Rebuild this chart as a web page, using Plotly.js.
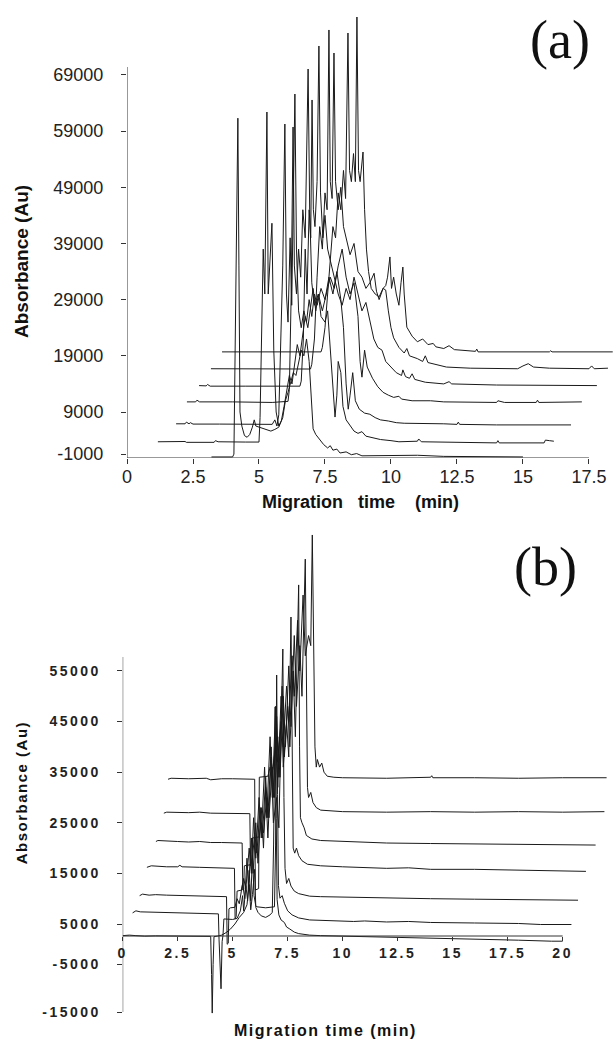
<!DOCTYPE html>
<html>
<head>
<meta charset="utf-8">
<script src="https://cdn.plot.ly/plotly-3.0.1.min.js"></script>
<style>
  html, body { margin: 0; padding: 0; background: #fff; }
  #chart { width: 613px; height: 1040px; }
  .x2tick text, .y2tick text { letter-spacing: 2.5px; }
  g.annotation[data-index="4"] text, g.annotation[data-index="5"] text { letter-spacing: 1.5px; }
</style>
</head>
<body>
<div id="chart"></div>
<script>
// ---------------- Panel (a) data: migration time (min) / absorbance (Au) ----------------
const A_XTICKS = [0, 2.5, 5, 7.5, 10, 12.5, 15, 17.5];
const A_XTICKTEXT = ['0', '2.5', '5', '7.5', '10', '12.5', '15', '17.5'];
const A_YTICKS = [1500, 9000, 19000, 29000, 39000, 49000, 59000, 69000];
const A_YTICKTEXT = ['-1000', '9000', '19000', '29000', '39000', '49000', '59000', '69000'];

const A_T0_X = [3.2,4.0,4.05,4.1,4.15,4.2,4.24,4.28,4.35,4.45,4.55,4.65,4.75,4.82,4.88,5.0,5.15,5.3,5.45,5.6,5.75,5.9,6.0,6.1,6.2,6.3,6.4,6.5,6.6,6.7,6.8,6.9,6.97,7.05,7.15,7.3,7.45,7.6,7.7,7.8,7.95,8.07,8.3,8.5,8.7,8.9,10.0,11.0,12.0,13.5,15.0];
const A_T0_Y = [1000,1000,1500,25000,48000,61300,35000,9000,6500,4800,4500,5000,6300,7600,6500,6300,6000,5800,5600,5900,6300,8000,11000,12500,14500,16000,15500,18000,20000,19000,22000,18000,12000,6000,5000,4000,3200,2600,3000,2200,2400,1700,1900,1400,1600,1200,1200,1300,1100,1100,1000];

const A_T1_X = [1.17,1.5,1.55,2.2,2.25,3.3,3.35,3.45,4.5,5.0,5.04,5.1,5.16,5.22,5.3,5.35,5.42,5.49,5.56,5.65,5.75,5.85,5.95,6.05,6.15,6.25,6.35,6.45,6.55,6.65,6.75,6.85,6.95,7.05,7.15,7.25,7.35,7.5,7.6,7.7,7.8,7.88,7.95,8.0,8.1,8.18,8.3,8.45,8.6,8.75,8.9,9.05,9.3,9.6,10.0,10.3,11.0,11.05,11.15,12.5,14.0,14.05,14.1,15.8,15.85,16.0,16.17];
const A_T1_Y = [3700,3700,3800,3750,3600,3600,3900,3700,3650,3650,8000,25000,38000,30000,62400,30000,36000,42600,20000,9000,6500,7500,10000,13000,15500,14000,18000,21000,19000,23000,26000,24000,28000,31000,27000,30000,26000,25000,27000,20000,12000,8100,12000,18000,16000,10000,7600,6500,5600,5200,5500,4700,4400,4100,3900,3700,3800,4200,3700,3600,3500,3900,3500,3500,4000,3900,3800];

const A_T2_X = [1.86,2.2,2.25,2.35,2.4,2.5,3.5,4.6,5.5,5.6,5.68,5.75,5.82,5.9,5.98,6.04,6.1,6.18,6.24,6.3,6.36,6.42,6.5,6.6,6.7,6.8,6.9,7.0,7.1,7.2,7.35,7.5,7.65,7.8,7.95,8.1,8.2,8.3,8.38,8.45,8.55,8.65,8.8,9.0,9.2,9.4,9.6,9.9,10.2,10.5,11.0,12.0,12.5,12.55,12.6,14.0,16.82];
const A_T2_Y = [6900,6900,7200,6900,7100,6850,6850,6800,6800,7600,6500,8500,20000,35000,60260,30000,25000,40000,28000,45000,65600,38000,27000,24000,27000,25000,29000,26000,30000,28000,31000,29000,33000,30000,34000,29000,24000,14000,9500,12000,16000,11000,9500,8800,8600,8000,7600,7400,7100,7000,7000,6900,6800,7200,6800,6700,6700];

const A_T3_X = [2.27,2.6,2.65,2.75,4.0,5.5,6.1,6.15,6.22,6.29,6.34,6.42,6.5,6.58,6.66,6.75,6.86,6.92,7.0,7.1,7.25,7.4,7.55,7.7,7.85,8.0,8.15,8.3,8.45,8.6,8.75,8.83,8.9,9.0,9.1,9.3,9.5,9.7,9.9,10.1,10.3,10.4,10.8,11.5,12.0,14.0,14.05,14.3,15.5,15.55,15.6,17.0,17.23];
const A_T3_Y = [10800,10800,11100,10800,10800,10700,10900,13000,30000,59730,35000,30000,38000,33000,45000,40000,70050,45000,32000,28000,30000,27000,30000,33000,31000,35000,38000,33000,30000,32000,26000,18000,15200,20000,17000,15000,13500,12500,12000,11600,11800,11300,11000,11000,10800,10700,11000,10700,10700,11100,10700,10700,10800];

const A_T4_X = [2.73,3.0,3.05,3.15,4.5,6.55,6.6,6.68,6.75,6.82,6.9,6.96,7.01,7.06,7.12,7.2,7.27,7.33,7.42,7.5,7.6,7.7,7.85,8.0,8.15,8.3,8.45,8.6,8.75,8.9,9.05,9.2,9.35,9.5,9.66,9.8,10.0,10.2,10.4,10.45,10.55,10.7,10.8,10.9,11.3,12.0,12.2,12.3,14.0,16.0,17.8];
const A_T4_Y = [13700,13650,13900,13600,13600,13600,14500,22000,38000,30000,45000,40000,64540,45000,42000,50000,74150,48000,40000,44000,38000,36000,33000,30000,28000,31000,29000,33000,30000,27000,28500,25000,22000,20500,20000,18000,17000,16000,15500,16500,15300,15000,15800,14800,14300,14000,14400,14000,13800,13700,13700];

const A_T5_X = [3.18,4.0,5.0,6.95,7.0,7.1,7.2,7.3,7.4,7.5,7.58,7.65,7.7,7.77,7.84,7.9,8.0,8.1,8.2,8.3,8.45,8.6,8.75,8.9,9.05,9.2,9.36,9.45,9.55,9.7,9.8,9.9,10.0,10.1,10.3,10.5,10.6,10.7,11.0,11.2,11.3,11.4,12.1,13.0,14.8,15.0,15.2,15.4,16.0,17.5,17.6,17.7,18.22];
const A_T5_Y = [16700,16700,16650,16650,17500,22000,33000,42000,38000,48000,45000,77000,50000,47000,72900,50000,45000,49000,42000,40000,37000,39000,34000,33000,31000,32000,33700,30500,29000,31000,30700,27000,24000,22200,20500,19500,20300,19000,18500,18000,19000,17800,17000,16800,16700,17200,17600,17000,16800,16700,17200,16700,16800];

const A_T6_X = [3.6,5.0,7.35,7.4,7.5,7.6,7.7,7.8,7.9,8.0,8.1,8.2,8.28,8.37,8.43,8.5,8.58,8.65,8.71,8.77,8.83,8.9,8.94,9.0,9.07,9.15,9.25,9.4,9.55,9.7,9.8,9.87,9.96,10.02,10.1,10.2,10.3,10.38,10.45,10.5,10.6,10.8,11.0,11.2,11.4,11.6,11.7,12.0,12.2,12.4,13.2,13.25,13.3,16.0,16.05,16.1,18.4];
const A_T6_Y = [19700,19700,19700,20500,24000,30000,36000,42000,40000,48000,45000,52000,47000,76460,52000,50000,55000,50000,79310,52000,50000,53000,55280,45000,38000,34000,31000,30000,29500,31000,31500,33000,36600,31000,33000,30000,28000,32000,34800,30000,24100,22500,21500,22000,21000,21200,20600,20300,20800,20100,19800,20200,19700,19700,19900,19700,19700];

// ---------------- Panel (b) data ----------------
const B_XTICKS = [0, 2.5, 5, 7.5, 10, 12.5, 15, 17.5, 20];
const B_XTICKTEXT = ['0', '2.5', '5', '7.5', '10', '12.5', '15', '17.5', '20'];
const B_YTICKS = [-12389, -2904, 5000, 15000, 25000, 35000, 45000, 55000];
const B_YTICKTEXT = ['-15000', '-5000', '5000', '15000', '25000', '35000', '45000', '55000'];

const B_T0_X = [0.0,0.3,0.6,1.0,1.5,2.0,3.0,4.0,4.04,4.07,4.11,4.15,4.3,4.5,4.7,4.9,5.1,5.3,5.5,5.65,5.75,5.82,5.9,6.0,6.05,6.15,6.3,6.5,6.7,6.8,6.86,6.93,6.98,7.02,7.1,7.2,7.35,7.45,7.6,7.8,8.0,8.5,9.0,10.0,12.0,14.0,16.0,18.0,19.5,20.0];
const B_T0_Y = [2700,2800,2700,2600,2650,2600,2550,2550,-5000,-12600,-3000,2500,2600,2800,3300,4000,5000,6300,7300,8800,12800,7800,10800,15800,8300,7300,6600,6300,6800,7300,20800,47900,25800,9800,6800,5800,5300,4400,4000,3400,3100,2800,2700,2600,2500,2300,2100,1800,1600,1600];

const B_T1_X = [0.45,0.6,0.8,1.5,2.0,2.5,3.5,4.35,4.38,4.42,4.47,4.52,4.56,4.6,5.0,5.2,5.35,5.45,5.5,5.6,5.68,5.75,5.82,5.9,5.97,6.05,6.1,6.5,6.9,6.95,7.0,7.04,7.08,7.15,7.25,7.35,7.5,7.7,8.0,8.5,9.0,10.0,10.5,11.0,12.0,13.0,14.0,16.0,18.0,19.0,20.4];
const B_T1_Y = [7200,7600,7400,7300,7200,7200,7100,7000,2000,-3000,-7800,1500,2800,6000,5900,6100,7600,10600,7600,12600,9600,15600,9600,18600,10600,8600,8400,8200,8400,20600,54200,30600,12600,10100,10600,9100,7600,6800,6200,5800,5700,5600,5500,5600,5400,5500,5300,5200,5100,4900,4900];

const B_T2_X = [0.77,0.9,1.2,1.5,2.0,3.0,4.0,4.72,4.75,4.8,4.83,4.9,5.1,5.2,5.3,5.45,5.55,5.65,5.72,5.85,5.93,6.05,6.15,6.3,6.4,6.5,6.6,6.75,6.85,7.0,7.1,7.2,7.28,7.33,7.38,7.45,7.55,7.65,7.8,8.0,8.5,9.0,10.0,11.0,12.0,14.0,16.0,18.0,20.7];
const B_T2_Y = [10600,10900,10700,10800,10700,10600,10500,10400,1000,1200,8000,8200,8300,10000,9000,13000,10000,18000,12000,22000,15000,25000,17000,28000,20000,32000,22000,38000,25000,30000,24000,45000,59340,30000,16000,13000,14000,12500,11500,11000,10500,10400,10300,10300,10100,10000,9900,9800,9700];

const B_T3_X = [1.1,1.3,2.0,2.5,2.6,2.7,3.5,4.5,5.08,5.11,5.16,5.2,5.4,5.5,5.6,5.75,5.85,5.95,6.05,6.2,6.3,6.45,6.55,6.7,6.8,6.95,7.05,7.2,7.3,7.45,7.55,7.65,7.7,7.75,7.82,7.9,8.0,8.15,8.4,9.0,10.0,11.0,12.0,13.0,14.0,16.0,17.0,18.0,20.0,21.06];
const B_T3_Y = [16200,16500,16300,16300,16600,16300,16200,16100,16000,6000,6500,11500,11700,14000,12000,20000,15000,26000,18000,30000,22000,36000,26000,42000,30000,48000,32000,50000,36000,45000,38000,65660,35000,20000,19000,20000,18500,17500,16800,16500,16300,16200,16000,16100,15800,15800,15700,15600,15500,15400];

const B_T4_X = [1.51,1.6,2.5,3.0,3.5,4.0,4.5,5.43,5.46,5.5,5.53,5.8,5.9,6.0,6.1,6.25,6.35,6.5,6.6,6.75,6.85,7.0,7.1,7.25,7.35,7.5,7.6,7.75,7.85,7.95,8.0,8.04,8.08,8.15,8.25,8.35,8.6,9.0,10.0,12.0,14.0,16.0,18.0,20.0,21.5];
const B_T4_Y = [21300,21500,21300,21200,21300,21100,21100,21000,11700,12000,16500,16700,18000,23000,19000,28000,22000,34000,26000,40000,30000,46000,34000,52000,38000,48000,40000,55000,42000,60000,72000,40000,26000,25000,24000,22500,21800,21500,21300,21000,20900,20800,20700,20600,20600];

const B_T5_X = [1.87,2.0,3.0,3.5,4.0,5.0,5.78,5.81,5.86,5.9,6.2,6.3,6.4,6.55,6.65,6.8,6.9,7.05,7.15,7.3,7.4,7.55,7.65,7.8,7.9,8.05,8.15,8.3,8.35,8.4,8.45,8.55,8.65,8.8,9.0,10.0,12.0,14.0,16.0,18.0,20.0,21.9];
const B_T5_Y = [26900,27100,27000,27100,26900,26900,26800,16500,17000,22000,22200,25000,23000,30000,26000,36000,30000,42000,34000,50000,40000,56000,44000,62000,48000,60000,50000,77100,50000,32000,30000,31000,29000,28000,27500,27200,27100,27200,27100,27200,27100,27200];

const B_T6_X = [2.06,2.2,3.0,3.8,4.0,4.5,5.0,6.0,6.03,6.18,6.21,6.6,6.7,6.8,6.95,7.05,7.2,7.3,7.45,7.55,7.7,7.8,7.95,8.05,8.2,8.3,8.45,8.55,8.62,8.68,8.74,8.8,8.85,8.95,9.05,9.15,9.3,9.6,10.0,12.0,14.0,14.05,14.1,16.0,18.0,20.0,22.0];
const B_T6_Y = [33600,33800,33700,33800,33500,33700,33700,33600,11700,12000,34000,34200,36000,35000,40000,37000,45000,40000,52000,45000,58000,50000,65000,55000,70000,58000,62000,60000,81870,60000,40000,36000,37500,36000,36800,35000,34200,34000,33900,33800,34000,34300,33900,33900,33800,33900,33900];

// ---------------- build ----------------
const LINE = { color: '#1a1a1a', width: 1 };
function tr(x, y, xa, ya) {
  return { type: 'scatter', mode: 'lines', x: x, y: y, xaxis: xa, yaxis: ya,
           line: LINE, hoverinfo: 'skip', showlegend: false };
}
const data = [
  tr(A_T0_X, A_T0_Y, 'x', 'y'), tr(A_T1_X, A_T1_Y, 'x', 'y'), tr(A_T2_X, A_T2_Y, 'x', 'y'),
  tr(A_T3_X, A_T3_Y, 'x', 'y'), tr(A_T4_X, A_T4_Y, 'x', 'y'), tr(A_T5_X, A_T5_Y, 'x', 'y'),
  tr(A_T6_X, A_T6_Y, 'x', 'y'),
  tr(B_T0_X, B_T0_Y, 'x2', 'y2'), tr(B_T1_X, B_T1_Y, 'x2', 'y2'), tr(B_T2_X, B_T2_Y, 'x2', 'y2'),
  tr(B_T3_X, B_T3_Y, 'x2', 'y2'), tr(B_T4_X, B_T4_Y, 'x2', 'y2'), tr(B_T5_X, B_T5_Y, 'x2', 'y2'),
  tr(B_T6_X, B_T6_Y, 'x2', 'y2')
];

const W = 613, H = 1040;
const fy = py => 1 - py / H;
const fx = px => px / W;
const AX_COL = '#333';
const fontA = { family: 'Liberation Sans, Arial, sans-serif', size: 18, color: '#222' };
const fontB = { family: 'Liberation Sans, Arial, sans-serif', size: 14, color: '#222', weight: 'bold' };

function ann(text, px, py, font, angle) {
  return { text: text, xref: 'paper', yref: 'paper', x: fx(px), y: fy(py),
           xanchor: 'center', yanchor: 'middle', showarrow: false,
           textangle: angle || 0, font: font };
}

const layout = {
  width: W, height: H,
  margin: { l: 0, r: 0, t: 0, b: 0 },
  paper_bgcolor: '#fff', plot_bgcolor: 'rgba(0,0,0,0)',
  showlegend: false,
  xaxis: {
    domain: [fx(127), 1], range: [0, 18.41], anchor: 'y',
    tickmode: 'array', tickvals: A_XTICKS, ticktext: A_XTICKTEXT,
    showgrid: false, zeroline: false, showline: false,
    ticks: 'outside', ticklen: 5, tickwidth: 1, tickcolor: AX_COL,
    tickfont: fontA, ticklabelstandoff: -3
  },
  yaxis: {
    domain: [fy(458), 1], range: [812, 82336], anchor: 'x',
    tickmode: 'array', tickvals: A_YTICKS, ticktext: A_YTICKTEXT,
    showgrid: false, zeroline: false, showline: false,
    ticks: 'outside', ticklen: 5, tickwidth: 1, tickcolor: AX_COL,
    tickfont: fontA, ticklabelstandoff: 14
  },
  xaxis2: {
    domain: [fx(122.7), 1], range: [0, 22.29], anchor: 'free', position: fy(936),
    tickmode: 'array', tickvals: B_XTICKS, ticktext: B_XTICKTEXT,
    showgrid: false, zeroline: false, showline: false,
    ticks: 'outside', ticklen: 4, tickwidth: 1, tickcolor: AX_COL,
    tickfont: fontB, ticklabelstandoff: 0
  },
  yaxis2: {
    domain: [fy(1015), fy(520)], range: [-12982, 84830], anchor: 'x2',
    tickmode: 'array', tickvals: B_YTICKS, ticktext: B_YTICKTEXT,
    showgrid: false, zeroline: false, showline: false,
    ticks: 'outside', ticklen: 5, tickwidth: 1, tickcolor: AX_COL,
    tickfont: fontB, ticklabelstandoff: 13
  },
  shapes: [
    { type: 'line', xref: 'x', yref: 'y', x0: 0, x1: 0, y0: 812, y1: 70410, line: { color: AX_COL, width: 1 } },
    { type: 'line', xref: 'x', yref: 'y', x0: 0, x1: 17.5, y0: 812, y1: 812, line: { color: AX_COL, width: 1 } },
    { type: 'line', xref: 'x2', yref: 'y2', x0: 0, x1: 0, y0: -12389, y1: 57760, line: { color: AX_COL, width: 1 } },
    { type: 'line', xref: 'x2', yref: 'y2', x0: 0, x1: 20, y0: 2629, y1: 2629, line: { color: AX_COL, width: 1 } }
  ],
  annotations: [
    ann('(a)', 560, 40, { family: 'Liberation Serif, Times New Roman, serif', size: 54, color: '#111' }),
    ann('(b)', 545, 567, { family: 'Liberation Serif, Times New Roman, serif', size: 54, color: '#111' }),
    ann('Absorbance (Au)', 21, 262, { family: 'Liberation Sans, Arial, sans-serif', size: 19, color: '#111', weight: 'bold' }, -90),
    ann('Migration\u00a0\u00a0\u00a0time\u00a0\u00a0\u00a0\u00a0(min)', 360, 502, { family: 'Liberation Sans, Arial, sans-serif', size: 18, color: '#111', weight: 'bold' }),
    ann('Absorbance (Au)', 21, 793, { family: 'Liberation Sans, Arial, sans-serif', size: 15, color: '#111', weight: 'bold' }, -90),
    ann('Migration time (min)', 326, 1030, { family: 'Liberation Sans, Arial, sans-serif', size: 16, color: '#111', weight: 'bold' })
  ]
};

Plotly.newPlot('chart', data, layout, { staticPlot: true, displayModeBar: false });
</script>
</body>
</html>
